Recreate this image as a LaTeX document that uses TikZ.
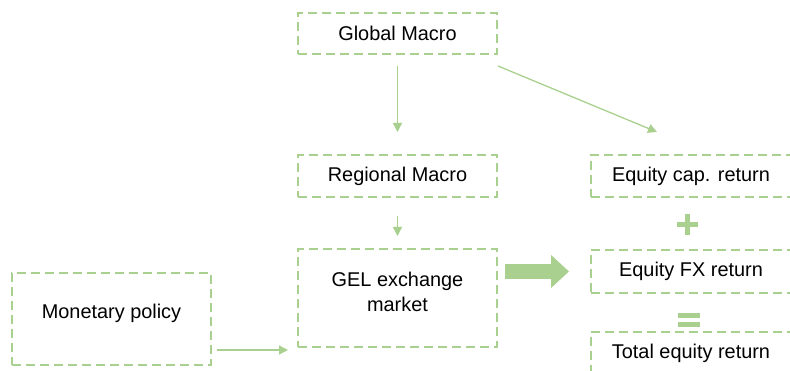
\documentclass[tikz,border=0pt]{standalone}
\usepackage{fontspec}
\setmainfont{Liberation Sans}
\usetikzlibrary{arrows.meta}
\definecolor{leafgreen}{RGB}{169,208,142}

\begin{document}
\begin{tikzpicture}
	[x=1pt,y=-1pt,
	box/.style={rectangle,draw=leafgreen,line width=2pt,dash pattern=on 9pt off 5pt,minimum width=199pt,inner sep=0pt,align=center,font=\fontsize{19.9}{25}\selectfont},
	link/.style={draw=leafgreen,line width=1.3pt,-{Triangle[length=9pt,width=9pt]}},
	fat/.style={draw=leafgreen,line width=15pt,-{Triangle[length=18pt,width=32pt]}},
	sign/.style={draw=leafgreen,line width=5pt}
	]
	\useasboundingbox (0,0) rectangle (790,371);
	\clip (0,0) rectangle (790,371);

	\node[box,minimum height=41pt] (global) at (397.5,33.5){Global Macro};
	\node[box,minimum height=42pt] (regional) at (397.5,176){Regional Macro};
	\node[box,minimum height=98pt,text depth=12pt] (gel) at (397.5,298){GEL exchange\\market};
	\node[box,minimum height=92pt,text depth=16pt] (monetary) at (111.5,319){Monetary policy};

	\node[box,minimum width=200pt,minimum height=42pt] (eqcap) at (691,176){Equity cap. return};
	\node[box,minimum width=200pt,minimum height=43pt] (eqfx) at (691,271.5){Equity FX return};
	\node[box,minimum width=200pt,minimum height=43pt] (eqtotal) at (691,353.5){Total equity return};

	\draw[link,shorten <=11pt,shorten >=22pt] (global) -- (regional);
	\draw[link] ([yshift=-11pt]global.south east) -- ([xshift=-34pt,yshift=22pt]eqcap.north);
	\draw[link,shorten <=18pt,shorten >=12pt] (regional) -- (gel);
	\draw[link,shorten <=5pt,shorten >=9pt] ([yshift=16pt]monetary.south east) -- ([yshift=16pt]monetary.south east -| gel.west);
	\draw[fat,shorten <=7pt,shorten >=21pt] (gel.east |- eqfx.west) -- (eqfx.west);

	% plus and equals
	\draw[sign] (677,224.5) -- (698,224.5);
	\draw[sign] (687.5,214) -- (687.5,235);
	\draw[sign,line width=4.5pt] (678,315.5) -- (700,315.5);
	\draw[sign,line width=4.5pt] (678,324.5) -- (700,324.5);
\end{tikzpicture}
\end{document}
